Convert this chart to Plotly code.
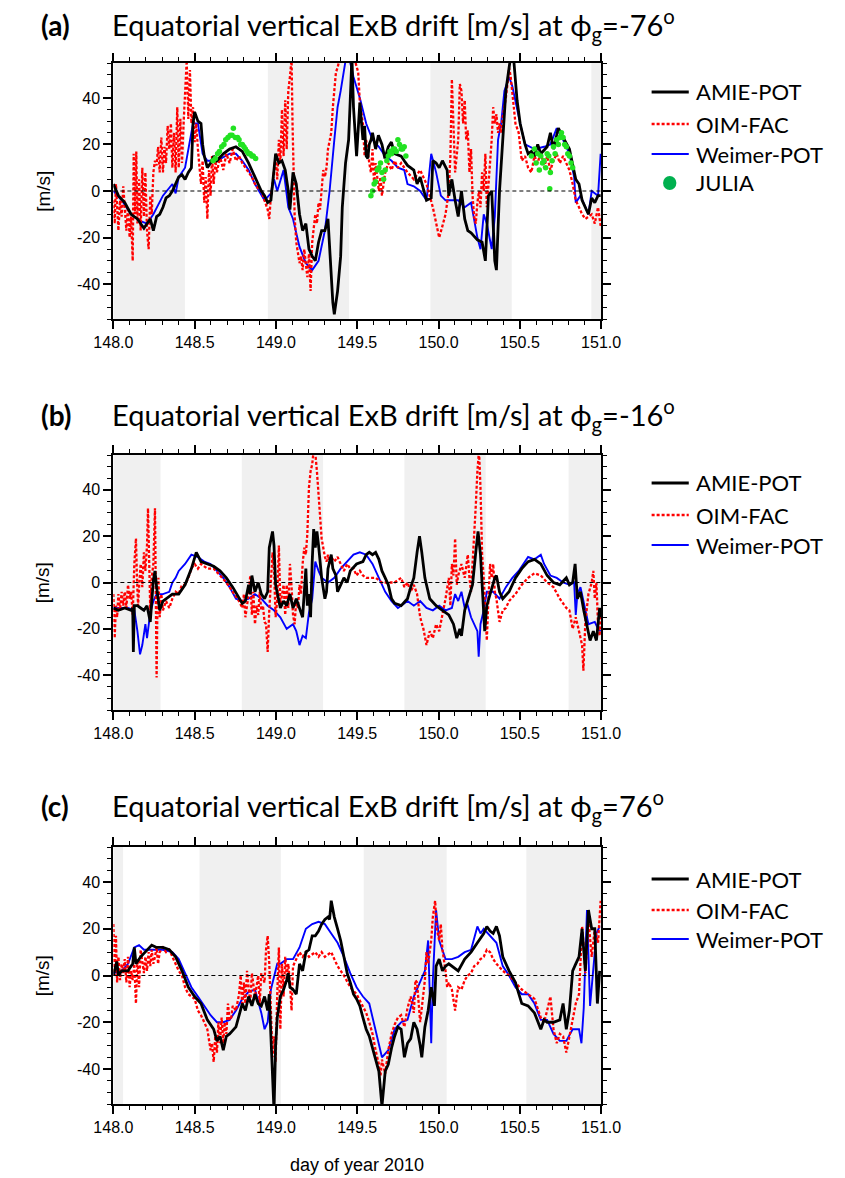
import plotly.graph_objects as go

# ---------------- data ----------------
X_TICKS = [148.0, 148.5, 149.0, 149.5, 150.0, 150.5, 151.0]
Y_TICKS = [-40, -20, 0, 20, 40]

TITLES = ["Equatorial vertical ExB drift [m/s] at ϕ<sub>g</sub>=-76<sup>o</sup>",
          "Equatorial vertical ExB drift [m/s] at ϕ<sub>g</sub>=-16<sup>o</sup>",
          "Equatorial vertical ExB drift [m/s] at ϕ<sub>g</sub>=76<sup>o</sup>"]
LABELS = ["(a)", "(b)", "(c)"]

BANDS_A = [(148.0, 148.44), (148.95, 149.45), (149.95, 150.45), (150.94, 151.0)]
BANDS_B = [(148.0, 148.29), (148.79, 149.29), (149.79, 150.29), (150.80, 151.0)]
BANDS_C = [(148.0, 148.06), (148.53, 149.03), (149.54, 150.05), (150.54, 151.0)]

AMIE_A = [(148.000,3),(148.012,1),(148.031,-2),(148.070,-5),(148.109,-10),(148.148,-12),(148.168,-14),(148.188,-16),(148.207,-14),(148.227,-12),(148.246,-17),(148.266,-11),(148.285,-10),(148.305,-7),(148.324,-3),(148.344,-2),(148.363,0),(148.383,3),(148.402,6),(148.422,7),(148.441,5),(148.461,8),(148.480,10),(148.490,29),(148.500,34),(148.520,30),(148.539,29),(148.549,20),(148.559,15),(148.578,10),(148.598,12),(148.617,15),(148.637,13),(148.676,16),(148.715,18),(148.754,19),(148.793,17),(148.832,12),(148.871,6),(148.910,0),(148.930,-2),(148.949,-5),(148.969,-4),(148.988,9),(148.998,16),(149.018,12),(149.037,13),(149.057,9),(149.076,0),(149.086,-8),(149.105,8),(149.125,3),(149.145,-10),(149.164,-17),(149.184,-14),(149.203,-25),(149.223,-28),(149.242,-30),(149.262,-22),(149.281,-17),(149.301,-17),(149.320,-12),(149.330,-25),(149.350,-48),(149.359,-53),(149.379,-43),(149.398,-28),(149.408,-7),(149.428,12),(149.447,22),(149.457,39),(149.467,58),(149.477,36),(149.496,15),(149.516,38),(149.535,22),(149.545,28),(149.555,15),(149.565,14),(149.574,20),(149.585,22),(149.594,25),(149.613,18),(149.630,24),(149.652,20),(149.670,14),(149.691,19),(149.710,21),(149.730,16),(149.770,15),(149.789,13),(149.809,11),(149.848,9),(149.868,3),(149.887,6),(149.926,-4),(149.955,-3),(149.965,13),(149.985,12),(150.004,10),(150.024,13),(150.053,9),(150.063,-2),(150.082,5),(150.102,-4),(150.121,-11),(150.141,0),(150.161,-12),(150.180,-17),(150.200,-18),(150.239,-21),(150.268,-22),(150.288,-30),(150.307,-2),(150.327,0),(150.346,-30),(150.356,-34),(150.375,0),(150.395,22),(150.414,43),(150.444,58),(150.463,56),(150.483,39),(150.502,29),(150.532,20),(150.551,16),(150.571,17),(150.590,15),(150.610,20),(150.629,16),(150.668,19),(150.688,25),(150.707,18),(150.737,27),(150.766,23),(150.805,18),(150.844,5),(150.864,3),(150.883,-4),(150.922,-10),(150.942,-3),(150.961,-5),(150.981,-2),(150.997,-2)]

WEIMER_A = [(148.000,0),(148.051,-4),(148.109,-10),(148.168,-13),(148.207,-14),(148.246,-10),(148.305,-2),(148.363,3),(148.383,-1),(148.402,6),(148.441,10),(148.490,29),(148.520,29),(148.549,16),(148.578,13),(148.637,13),(148.715,16),(148.754,16),(148.793,13),(148.832,9),(148.871,3),(148.930,-4),(148.969,-1),(148.988,5),(149.008,0),(149.047,9),(149.076,-7),(149.105,-12),(149.145,-24),(149.184,-31),(149.223,-34),(149.262,-30),(149.301,-17),(149.330,0),(149.359,22),(149.379,36),(149.398,43),(149.428,56),(149.447,58),(149.477,49),(149.516,40),(149.555,29),(149.594,22),(149.633,19),(149.672,15),(149.711,13),(149.750,10),(149.789,9),(149.809,3),(149.848,2),(149.887,0),(149.926,-4),(149.955,16),(149.985,8),(150.014,-2),(150.043,-4),(150.082,-4),(150.121,-4),(150.161,-7),(150.200,-5),(150.239,-20),(150.258,-25),(150.278,-10),(150.297,-14),(150.327,-25),(150.346,-11),(150.366,22),(150.385,29),(150.405,43),(150.434,49),(150.454,45),(150.473,38),(150.502,29),(150.532,20),(150.590,18),(150.649,19),(150.688,20),(150.727,27),(150.766,22),(150.805,16),(150.834,6),(150.844,-5),(150.873,-2),(150.922,-10),(150.942,0),(150.981,-2),(150.997,16)]

OIM_A = [(148.000,-4),(148.008,-14),(148.016,3),(148.023,-10),(148.031,-17),(148.041,-4),(148.051,-11),(148.061,2),(148.070,-8),(148.080,-17),(148.090,-7),(148.100,-20),(148.109,-11),(148.119,-30),(148.125,16),(148.133,-10),(148.141,17),(148.148,-14),(148.158,5),(148.168,-17),(148.178,10),(148.188,-11),(148.197,8),(148.207,-17),(148.217,-25),(148.227,-2),(148.236,-10),(148.246,8),(148.256,13),(148.266,11),(148.275,19),(148.285,8),(148.295,23),(148.305,8),(148.314,19),(148.324,12),(148.334,28),(148.344,18),(148.354,29),(148.363,10),(148.373,25),(148.383,8),(148.393,36),(148.402,10),(148.412,31),(148.422,12),(148.432,29),(148.441,43),(148.451,56),(148.461,31),(148.471,52),(148.480,29),(148.490,36),(148.500,21),(148.510,29),(148.520,18),(148.529,12),(148.539,3),(148.549,13),(148.559,-5),(148.568,6),(148.578,-12),(148.588,9),(148.598,-2),(148.607,15),(148.617,3),(148.627,13),(148.637,8),(148.656,15),(148.676,9),(148.695,16),(148.715,12),(148.734,18),(148.754,13),(148.773,15),(148.793,12),(148.812,10),(148.832,8),(148.852,6),(148.871,3),(148.891,1),(148.910,0),(148.930,-4),(148.949,-8),(148.959,-12),(148.969,-2),(148.979,3),(148.988,9),(148.998,15),(149.008,5),(149.018,22),(149.027,12),(149.037,35),(149.047,15),(149.057,39),(149.066,18),(149.076,43),(149.086,49),(149.096,57),(149.102,29),(149.109,-2),(149.115,-11),(149.125,-22),(149.135,-27),(149.145,-31),(149.154,-28),(149.164,-34),(149.174,-25),(149.184,-31),(149.193,-37),(149.203,-27),(149.213,-43),(149.223,-22),(149.232,-17),(149.242,-10),(149.252,-14),(149.262,-5),(149.271,-8),(149.281,3),(149.291,9),(149.301,6),(149.311,10),(149.320,18),(149.330,22),(149.340,25),(149.350,36),(149.359,44),(149.369,51),(149.379,53),(149.389,56),(149.410,62),(149.440,60),(149.465,62),(149.486,56),(149.506,51),(149.516,38),(149.535,29),(149.545,15),(149.555,22),(149.574,12),(149.584,8),(149.594,18),(149.604,2),(149.613,12),(149.633,0),(149.643,6),(149.652,-2),(149.672,8),(149.691,12),(149.711,9),(149.730,13),(149.750,10),(149.770,12),(149.809,8),(149.848,5),(149.887,9),(149.926,3),(149.965,-7),(149.985,-14),(150.004,-20),(150.024,-15),(150.043,-10),(150.063,0),(150.073,15),(150.082,48),(150.092,29),(150.102,8),(150.121,22),(150.131,46),(150.141,43),(150.151,29),(150.161,39),(150.170,22),(150.180,26),(150.190,8),(150.200,18),(150.209,-2),(150.219,-11),(150.229,-14),(150.239,-5),(150.249,0),(150.258,-7),(150.268,8),(150.278,0),(150.288,16),(150.297,-7),(150.307,3),(150.317,15),(150.327,22),(150.336,36),(150.346,29),(150.356,33),(150.366,25),(150.375,29),(150.385,25),(150.395,32),(150.405,36),(150.414,40),(150.424,46),(150.434,53),(150.444,49),(150.454,43),(150.463,36),(150.473,29),(150.493,25),(150.512,13),(150.532,15),(150.551,10),(150.571,8),(150.590,15),(150.610,12),(150.629,17),(150.649,10),(150.668,15),(150.688,9),(150.707,13),(150.727,16),(150.746,12),(150.766,15),(150.786,12),(150.805,9),(150.825,3),(150.844,-4),(150.864,-7),(150.883,-10),(150.903,-12),(150.922,-11),(150.942,-10),(150.961,-14),(150.981,-7),(150.997,-15)]

JULIA_A = [(148.613,13),(148.627,14),(148.641,16),(148.652,17),(148.666,19),(148.680,20),(148.691,22),(148.705,23),(148.719,24),(148.730,24),(148.738,27),(148.750,23),(148.764,23),(148.773,22),(148.783,20),(148.793,20),(148.803,19),(148.812,18),(148.822,17),(148.832,16),(148.842,16),(148.852,15),(148.861,15),(148.875,14),
           (149.584,-2),(149.594,0),(149.604,3),(149.613,4),(149.623,9),(149.633,10),(149.643,12),(149.652,8),(149.662,5),(149.672,9),(149.682,13),(149.691,15),(149.701,17),(149.711,16),(149.721,18),(149.730,18),(149.740,17),(149.750,22),(149.760,20),(149.770,18),(149.779,18),(149.789,19),(149.799,15),
           (150.571,15),(150.590,18),(150.600,12),(150.610,16),(150.620,9),(150.629,15),(150.639,12),(150.649,13),(150.659,10),(150.668,16),(150.678,15),(150.684,1),(150.688,8),(150.698,13),(150.707,19),(150.717,16),(150.727,22),(150.737,20),(150.746,23),(150.756,25),(150.766,23),(150.776,20),(150.786,19),(150.795,16),(150.805,15),(150.815,12),(150.825,10)]

AMIE_B = [(148.000,-11),(148.031,-12),(148.070,-11),(148.109,-12),(148.119,-11),(148.123,-30),(148.129,-10),(148.148,-10),(148.168,-11),(148.188,-12),(148.207,-10),(148.227,-17),(148.246,1),(148.256,5),(148.266,-2),(148.285,-12),(148.305,-8),(148.324,-7),(148.363,-5),(148.402,-5),(148.441,-1),(148.480,6),(148.510,13),(148.539,9),(148.578,8),(148.617,7),(148.656,5),(148.695,2),(148.734,-2),(148.773,-7),(148.793,-9),(148.812,-8),(148.832,-1),(148.842,-5),(148.852,3),(148.871,-4),(148.891,0),(148.910,-5),(148.930,-7),(148.949,-4),(148.959,15),(148.979,22),(148.988,16),(148.998,-1),(149.008,-5),(149.027,-11),(149.047,-8),(149.066,-10),(149.086,-5),(149.105,-11),(149.125,-7),(149.145,-11),(149.164,-15),(149.184,6),(149.193,-10),(149.203,-5),(149.213,-15),(149.223,9),(149.232,23),(149.242,15),(149.252,22),(149.262,16),(149.281,2),(149.301,-7),(149.311,-4),(149.320,6),(149.340,12),(149.350,6),(149.369,3),(149.379,-4),(149.398,-1),(149.418,2),(149.438,0),(149.457,5),(149.496,8),(149.535,9),(149.555,12),(149.574,13),(149.594,12),(149.613,13),(149.633,10),(149.652,5),(149.672,2),(149.691,-1),(149.711,-7),(149.730,-9),(149.770,-10),(149.809,-7),(149.829,-2),(149.848,2),(149.868,13),(149.883,20),(149.897,13),(149.916,2),(149.946,-7),(149.985,-10),(150.024,-12),(150.063,-14),(150.092,-18),(150.112,-24),(150.131,-20),(150.141,-23),(150.161,-12),(150.190,-5),(150.209,-1),(150.229,13),(150.243,22),(150.258,12),(150.274,-7),(150.284,-21),(150.297,-10),(150.327,-2),(150.346,2),(150.356,3),(150.375,-4),(150.395,-7),(150.434,-4),(150.473,2),(150.512,6),(150.551,9),(150.590,10),(150.629,8),(150.668,3),(150.707,0),(150.746,-1),(150.786,2),(150.805,-1),(150.825,0),(150.840,8),(150.854,-7),(150.873,-4),(150.893,-12),(150.913,-18),(150.932,-25),(150.952,-21),(150.971,-25),(150.991,-11),(150.997,-15)]

WEIMER_B = [(148.000,-11),(148.090,-11),(148.129,-12),(148.148,-21),(148.164,-31),(148.178,-27),(148.197,-18),(148.207,-24),(148.227,-13),(148.246,-8),(148.266,-5),(148.305,-5),(148.344,-4),(148.363,0),(148.383,2),(148.402,5),(148.441,8),(148.480,12),(148.520,11),(148.559,9),(148.598,8),(148.637,5),(148.676,2),(148.715,-2),(148.754,-7),(148.793,-8),(148.832,-7),(148.871,-5),(148.910,-7),(148.949,-10),(148.988,-12),(149.027,-15),(149.066,-20),(149.105,-18),(149.125,-21),(149.145,-27),(149.164,-23),(149.184,-24),(149.203,-13),(149.223,-7),(149.242,9),(149.262,5),(149.281,2),(149.320,0),(149.359,2),(149.398,6),(149.438,9),(149.477,12),(149.516,13),(149.555,12),(149.594,8),(149.633,2),(149.672,-4),(149.711,-8),(149.750,-11),(149.770,-10),(149.809,-8),(149.848,-10),(149.887,-8),(149.926,-11),(149.965,-12),(150.004,-10),(150.043,-12),(150.082,-11),(150.102,-5),(150.121,-8),(150.141,-4),(150.161,-11),(150.180,-10),(150.200,-15),(150.219,-18),(150.239,-21),(150.247,-32),(150.258,-18),(150.278,-12),(150.297,-4),(150.336,-4),(150.375,-7),(150.414,-2),(150.454,2),(150.493,5),(150.532,9),(150.551,11),(150.590,10),(150.629,12),(150.649,8),(150.688,3),(150.727,2),(150.766,0),(150.805,-1),(150.834,0),(150.844,-14),(150.854,-5),(150.873,-2),(150.903,-12),(150.922,-18),(150.961,-17),(150.981,-20),(150.997,-21)]

OIM_B = [(148.000,-5),(148.008,-24),(148.016,-10),(148.023,-15),(148.031,-5),(148.041,-12),(148.051,-4),(148.061,-10),(148.070,-4),(148.080,-11),(148.090,-1),(148.100,-7),(148.109,-4),(148.119,-14),(148.129,8),(148.139,19),(148.145,2),(148.152,-10),(148.160,0),(148.168,8),(148.178,-2),(148.188,13),(148.197,5),(148.207,16),(148.213,32),(148.219,5),(148.227,-12),(148.236,2),(148.246,8),(148.256,32),(148.262,-12),(148.266,-41),(148.271,-10),(148.277,2),(148.285,-15),(148.295,-5),(148.305,-12),(148.314,-10),(148.324,-8),(148.344,-11),(148.363,-7),(148.383,-4),(148.402,-5),(148.422,-1),(148.441,-1),(148.461,2),(148.480,6),(148.500,8),(148.520,6),(148.539,8),(148.578,6),(148.617,6),(148.656,3),(148.695,0),(148.734,-4),(148.773,-8),(148.793,-11),(148.803,-5),(148.812,-15),(148.822,-10),(148.832,-5),(148.842,3),(148.852,-14),(148.861,-4),(148.871,-18),(148.881,-10),(148.891,-14),(148.900,-4),(148.910,-12),(148.920,-10),(148.930,-17),(148.939,-18),(148.949,-30),(148.959,-12),(148.969,0),(148.979,13),(148.988,6),(148.998,-15),(149.008,-7),(149.018,16),(149.027,-10),(149.037,-5),(149.047,-1),(149.057,-14),(149.066,-1),(149.076,-11),(149.086,8),(149.096,-2),(149.105,-14),(149.115,-18),(149.125,-7),(149.135,-11),(149.145,-1),(149.154,-5),(149.164,8),(149.174,15),(149.184,12),(149.193,21),(149.203,41),(149.213,48),(149.223,51),(149.232,57),(149.242,56),(149.252,48),(149.262,36),(149.271,29),(149.281,19),(149.291,15),(149.301,11),(149.311,9),(149.320,12),(149.330,8),(149.340,11),(149.359,9),(149.379,11),(149.398,8),(149.418,5),(149.438,8),(149.457,6),(149.477,6),(149.496,3),(149.516,5),(149.535,3),(149.555,2),(149.574,2),(149.613,2),(149.652,0),(149.691,0),(149.730,0),(149.770,2),(149.790,-2),(149.809,0),(149.829,-4),(149.848,-1),(149.868,-5),(149.887,-15),(149.907,-20),(149.926,-27),(149.946,-21),(149.965,-24),(149.985,-18),(150.004,-21),(150.024,-14),(150.043,-7),(150.063,2),(150.073,-10),(150.082,8),(150.092,3),(150.102,19),(150.112,-1),(150.121,3),(150.141,8),(150.161,2),(150.170,6),(150.180,12),(150.190,2),(150.200,-4),(150.209,8),(150.219,19),(150.229,33),(150.239,48),(150.249,57),(150.258,41),(150.268,12),(150.278,2),(150.288,-10),(150.297,-25),(150.307,-7),(150.317,8),(150.327,2),(150.336,8),(150.346,-4),(150.356,-7),(150.375,-17),(150.395,-12),(150.414,-11),(150.434,-8),(150.473,-5),(150.512,-1),(150.551,2),(150.590,4),(150.629,3),(150.668,0),(150.707,-2),(150.746,-7),(150.786,-11),(150.805,-12),(150.825,-20),(150.844,-15),(150.864,-21),(150.883,-27),(150.891,-38),(150.903,-17),(150.922,-5),(150.942,0),(150.952,5),(150.961,-7),(150.971,0),(150.981,-18),(150.991,-23),(150.997,-13)]

AMIE_C = [(148.000,0),(148.012,4),(148.021,6),(148.031,0),(148.051,2),(148.090,2),(148.119,5),(148.129,12),(148.139,5),(148.168,8),(148.207,11),(148.236,13),(148.266,12),(148.305,12),(148.344,11),(148.383,8),(148.422,2),(148.461,-5),(148.500,-9),(148.539,-12),(148.578,-19),(148.617,-23),(148.637,-28),(148.656,-26),(148.676,-32),(148.695,-26),(148.715,-25),(148.754,-22),(148.793,-12),(148.812,-15),(148.832,-9),(148.852,-13),(148.871,-8),(148.891,-12),(148.910,-13),(148.930,-9),(148.949,-15),(148.959,-8),(148.969,-26),(148.979,-50),(148.988,-58),(148.998,-30),(149.008,-18),(149.027,-9),(149.047,-6),(149.066,-2),(149.076,1),(149.086,-5),(149.105,-6),(149.125,-8),(149.145,5),(149.164,2),(149.184,10),(149.203,11),(149.223,17),(149.242,17),(149.262,19),(149.281,22),(149.301,24),(149.320,25),(149.330,24),(149.340,32),(149.350,28),(149.359,25),(149.379,20),(149.398,15),(149.418,8),(149.438,1),(149.457,-3),(149.477,-8),(149.496,-10),(149.516,-13),(149.535,-18),(149.555,-23),(149.574,-26),(149.594,-31),(149.613,-35),(149.633,-41),(149.652,-56),(149.672,-41),(149.691,-38),(149.711,-31),(149.730,-26),(149.750,-22),(149.770,-23),(149.790,-35),(149.809,-29),(149.829,-27),(149.848,-20),(149.868,-23),(149.887,-30),(149.897,-35),(149.916,-22),(149.936,-15),(149.955,-5),(149.975,-13),(149.985,4),(150.004,7),(150.024,2),(150.043,4),(150.063,5),(150.082,4),(150.121,2),(150.161,7),(150.200,10),(150.239,14),(150.278,18),(150.297,21),(150.317,19),(150.336,18),(150.356,21),(150.375,17),(150.395,8),(150.434,2),(150.473,-3),(150.512,-12),(150.551,-13),(150.590,-16),(150.629,-23),(150.649,-19),(150.668,-20),(150.707,-20),(150.746,-19),(150.766,-12),(150.786,-23),(150.805,-15),(150.825,2),(150.844,5),(150.864,8),(150.883,20),(150.903,2),(150.922,28),(150.942,20),(150.961,20),(150.977,-12),(150.991,2)]

WEIMER_C = [(148.000,1),(148.051,2),(148.090,5),(148.129,12),(148.158,13),(148.188,11),(148.246,11),(148.305,11),(148.363,10),(148.402,7),(148.441,1),(148.480,-5),(148.520,-9),(148.559,-13),(148.598,-17),(148.637,-20),(148.676,-20),(148.715,-19),(148.754,-15),(148.793,-10),(148.832,-7),(148.871,-6),(148.910,-16),(148.930,-23),(148.949,-20),(148.969,-6),(148.988,0),(149.008,5),(149.027,5),(149.066,7),(149.105,7),(149.145,12),(149.184,20),(149.223,22),(149.262,23),(149.301,22),(149.340,18),(149.379,14),(149.418,8),(149.457,1),(149.496,-5),(149.535,-9),(149.574,-12),(149.613,-23),(149.652,-35),(149.691,-32),(149.730,-23),(149.770,-20),(149.809,-19),(149.848,-9),(149.887,-3),(149.916,2),(149.936,15),(149.955,-29),(149.965,-2),(149.985,28),(150.004,15),(150.043,7),(150.082,7),(150.121,8),(150.161,10),(150.200,11),(150.239,21),(150.258,18),(150.278,20),(150.317,17),(150.356,14),(150.395,4),(150.434,0),(150.473,-5),(150.512,-8),(150.551,-8),(150.590,-12),(150.629,-19),(150.668,-19),(150.707,-25),(150.746,-28),(150.786,-28),(150.825,-23),(150.864,-23),(150.879,-29),(150.893,-14),(150.913,28),(150.932,-13),(150.952,5),(150.971,18),(150.991,21)]

OIM_C = [(148.000,22),(148.008,0),(148.016,17),(148.023,-3),(148.031,8),(148.041,-2),(148.051,5),(148.061,1),(148.070,7),(148.080,-3),(148.090,8),(148.100,-5),(148.109,2),(148.119,-2),(148.129,5),(148.139,-12),(148.148,7),(148.158,-5),(148.168,11),(148.188,1),(148.197,8),(148.207,2),(148.217,10),(148.227,4),(148.236,11),(148.246,5),(148.256,8),(148.266,12),(148.275,5),(148.285,10),(148.305,12),(148.324,10),(148.344,11),(148.363,8),(148.383,5),(148.402,2),(148.422,0),(148.441,-5),(148.461,-8),(148.480,-9),(148.500,-10),(148.520,-15),(148.539,-17),(148.559,-20),(148.578,-23),(148.598,-32),(148.607,-29),(148.617,-37),(148.627,-26),(148.637,-33),(148.646,-20),(148.656,-29),(148.666,-18),(148.676,-29),(148.685,-20),(148.695,-25),(148.705,-12),(148.715,-19),(148.725,-18),(148.734,-13),(148.754,-15),(148.773,-8),(148.783,0),(148.793,-13),(148.803,-3),(148.812,-12),(148.822,2),(148.832,-5),(148.842,-12),(148.852,1),(148.871,-9),(148.891,0),(148.900,-12),(148.910,1),(148.930,-3),(148.939,11),(148.949,17),(148.959,5),(148.969,-16),(148.979,-35),(148.988,-26),(148.998,-37),(149.008,-8),(149.018,12),(149.027,-23),(149.037,5),(149.047,-9),(149.057,8),(149.066,0),(149.076,5),(149.086,-3),(149.096,-15),(149.105,4),(149.125,7),(149.145,10),(149.164,8),(149.184,10),(149.203,8),(149.223,9),(149.242,10),(149.262,8),(149.281,10),(149.301,8),(149.340,10),(149.359,7),(149.379,4),(149.418,0),(149.457,-5),(149.496,-8),(149.535,-13),(149.555,-16),(149.574,-20),(149.594,-25),(149.613,-32),(149.633,-38),(149.643,-43),(149.652,-36),(149.672,-42),(149.691,-32),(149.711,-25),(149.730,-21),(149.750,-18),(149.770,-17),(149.790,-22),(149.809,-14),(149.829,-9),(149.848,-16),(149.858,-2),(149.868,-3),(149.887,-20),(149.897,-13),(149.916,-2),(149.926,10),(149.936,5),(149.955,15),(149.965,25),(149.979,32),(149.989,20),(150.004,15),(150.014,22),(150.024,11),(150.043,2),(150.053,-5),(150.063,-3),(150.082,-6),(150.102,-15),(150.112,-9),(150.121,-5),(150.141,-6),(150.161,-2),(150.180,0),(150.200,1),(150.219,4),(150.239,5),(150.258,7),(150.278,8),(150.297,11),(150.317,10),(150.336,7),(150.356,5),(150.395,2),(150.434,0),(150.473,-3),(150.512,-6),(150.551,-8),(150.590,-10),(150.629,-18),(150.649,-20),(150.668,-15),(150.688,-9),(150.707,-23),(150.727,-29),(150.746,-25),(150.766,-26),(150.786,-33),(150.805,-26),(150.825,-18),(150.844,-12),(150.864,-8),(150.883,21),(150.893,12),(150.903,1),(150.922,24),(150.942,8),(150.961,20),(150.981,14),(150.997,32)]

# ---------------- styling / layout ----------------
W, H = 845, 1178
def px(x): return x / W
def py(y): return 1 - y / H

PLOT_X = (98, 610)
PLOT_Y = [(63, 319), (455, 710), (847, 1104)]
TITLE_Y = [25, 415, 806]
LEG_Y = [[92, 124, 154, 183], [483, 515, 545], [879, 910, 939]]

TITLE_FONT = "Lato"
TICK_FONT = "Liberation Sans"

C_AMIE, C_OIM, C_WEIM, C_JULIA = "#000000", "#ff0000", "#0000ff", "#22e222"

panels = [
    dict(amie=AMIE_A, oim=OIM_A, weim=WEIMER_A, julia=JULIA_A, bands=BANDS_A),
    dict(amie=AMIE_B, oim=OIM_B, weim=WEIMER_B, julia=None, bands=BANDS_B),
    dict(amie=AMIE_C, oim=OIM_C, weim=WEIMER_C, julia=None, bands=BANDS_C),
]

fig = go.Figure()
shapes, annotations = [], []

def split(pairs):
    return [p[0] for p in pairs], [p[1] for p in pairs]

for i, p in enumerate(panels):
    sfx = "" if i == 0 else str(i + 1)
    xa, ya = "x" + sfx, "y" + sfx
    t, v = split(p["weim"])
    fig.add_trace(go.Scatter(x=t, y=v, mode="lines", xaxis=xa, yaxis=ya, showlegend=False,
                             line=dict(color=C_WEIM, width=1.9)))
    t, v = split(p["oim"])
    fig.add_trace(go.Scatter(x=t, y=v, mode="lines", xaxis=xa, yaxis=ya, showlegend=False,
                             line=dict(color=C_OIM, width=2.3, dash="3px,2px")))
    t, v = split(p["amie"])
    fig.add_trace(go.Scatter(x=t, y=v, mode="lines", xaxis=xa, yaxis=ya, showlegend=False,
                             line=dict(color=C_AMIE, width=2.8)))
    if p["julia"]:
        t, v = split(p["julia"])
        fig.add_trace(go.Scatter(x=t, y=v, mode="markers", xaxis=xa, yaxis=ya, showlegend=False,
                                 marker=dict(color=C_JULIA, size=5.5, line=dict(width=0))))
    for (b0, b1) in p["bands"]:
        shapes.append(dict(type="rect", xref=xa, yref=ya + " domain", x0=b0, x1=b1, y0=0, y1=1,
                           fillcolor="#f0f0f0", line=dict(width=0), layer="below"))
    shapes.append(dict(type="line", xref=xa + " domain", yref=ya, x0=0, x1=1, y0=0, y1=0,
                       line=dict(color="black", width=1, dash="4px,3px"), layer="above"))

    y_top, y_bot = PLOT_Y[i]
    common = dict(showline=True, linewidth=2, linecolor="black", mirror="ticks",
                  ticks="outside", ticklen=8, tickwidth=1.5, tickcolor="black",
                  showgrid=False, zeroline=False,
                  tickfont=dict(family=TICK_FONT, size=16, color="black"))
    fig.layout["xaxis" + sfx] = dict(common, domain=[px(PLOT_X[0]), px(PLOT_X[1])], range=[148, 151],
                                     tickvals=X_TICKS, ticktext=[f"{x:.1f}" for x in X_TICKS],
                                     minor=dict(dtick=0.1, tick0=148, ticks="outside", ticklen=4,
                                                tickwidth=1.2, tickcolor="black", showgrid=False),
                                     anchor=ya)
    fig.layout["yaxis" + sfx] = dict(common, domain=[py(y_bot), py(y_top)], range=[-55, 55],
                                     tickvals=Y_TICKS, ticktext=[str(y) for y in Y_TICKS],
                                     minor=dict(dtick=5, tick0=0, ticks="outside", ticklen=4,
                                                tickwidth=1.2, tickcolor="black", showgrid=False),
                                     anchor=xa)

    annotations.append(dict(xref="paper", yref="paper", x=px(20), y=py(TITLE_Y[i]), xanchor="left",
                            yanchor="middle", text="<b>" + LABELS[i] + "</b>", showarrow=False,
                            font=dict(family=TITLE_FONT, size=28, color="black")))
    annotations.append(dict(xref="paper", yref="paper", x=px(94), y=py(TITLE_Y[i]), xanchor="left",
                            yanchor="middle", text=TITLES[i], showarrow=False,
                            font=dict(family=TITLE_FONT, size=29, color="black")))
    annotations.append(dict(xref="paper", yref="paper", x=px(24), y=py((y_top + y_bot) / 2),
                            xanchor="center", yanchor="middle", text="[m/s]", textangle=-90,
                            showarrow=False, font=dict(family=TICK_FONT, size=19, color="black")))

    entries = [("AMIE-POT", C_AMIE, 2.8, "solid"), ("OIM-FAC", C_OIM, 2.4, "3px,2px"),
               ("Weimer-POT", C_WEIM, 2.0, "solid")]
    for j, (lab, col, w, dsh) in enumerate(entries):
        yy = LEG_Y[i][j]
        shapes.append(dict(type="line", xref="paper", yref="paper", x0=px(663), x1=px(702),
                           y0=py(yy), y1=py(yy), line=dict(color=col, width=w, dash=dsh)))
        annotations.append(dict(xref="paper", yref="paper", x=px(707), y=py(yy), xanchor="left",
                                yanchor="middle", text=lab, showarrow=False,
                                font=dict(family=TITLE_FONT, size=22, color="black")))
    if p["julia"]:
        yy = LEG_Y[i][3]
        shapes.append(dict(type="circle", xref="paper", yref="paper", x0=px(675), x1=px(689),
                           y0=py(yy + 7), y1=py(yy - 7), fillcolor="#00b04f", line=dict(width=0)))
        annotations.append(dict(xref="paper", yref="paper", x=px(707), y=py(yy), xanchor="left",
                                yanchor="middle", text="JULIA", showarrow=False,
                                font=dict(family=TITLE_FONT, size=22, color="black")))

annotations.append(dict(xref="paper", yref="paper", x=px(354), y=py(1165), xanchor="center",
                        yanchor="middle", text="day of year 2010", showarrow=False,
                        font=dict(family=TICK_FONT, size=18, color="black")))

fig.update_layout(width=W, height=H, margin=dict(l=0, r=0, t=0, b=0),
                  paper_bgcolor="white", plot_bgcolor="white",
                  shapes=shapes, annotations=annotations, showlegend=False)

fig.write_html("out.html")
